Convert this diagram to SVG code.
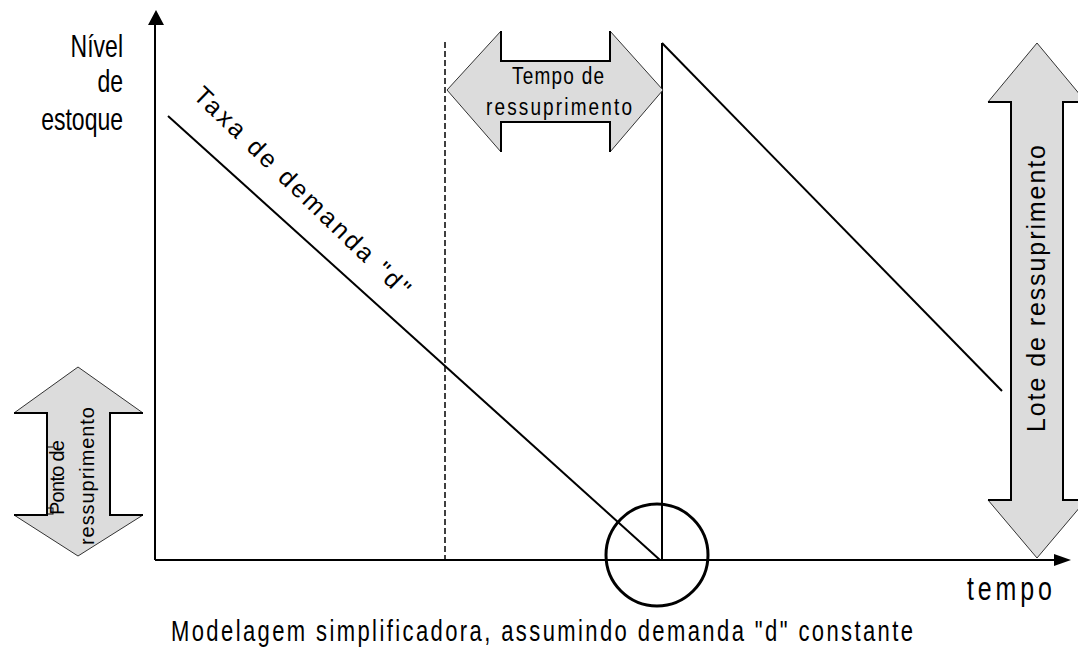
<svg xmlns="http://www.w3.org/2000/svg" width="1078" height="652" viewBox="0 0 1078 652">
<style>
.t{font-family:"Liberation Sans",Arial,sans-serif;fill:#000}
.ln{stroke:#000;stroke-width:2;fill:none}
.fill{fill:#dcdcdc;stroke:#333;stroke-width:1}
.edge{stroke:#000;stroke-width:2;fill:none}
</style>
<rect width="1078" height="652" fill="#fff"/>
<g id="axes">
<line class="ln" x1="155" y1="22" x2="155" y2="560"/>
<polygon points="156,10 148,25 164,25" fill="#000"/>
<line class="ln" x1="155" y1="560" x2="1058" y2="560"/>
<polygon points="1071,560 1054,554 1054,566" fill="#000"/>
<text class="t" font-size="23" text-anchor="end" transform="translate(123,57) scale(1,1.4)">Nível</text>
<text class="t" font-size="23" text-anchor="end" transform="translate(123,92) scale(1,1.4)">de</text>
<text class="t" font-size="23" text-anchor="end" transform="translate(123,130) scale(1,1.4)">estoque</text>
<text class="t" font-size="25" transform="translate(967,600) scale(1,1.35)" textLength="85" lengthAdjust="spacing">tempo</text>
</g>
<g id="connectors">
<line class="ln" x1="168" y1="116" x2="660" y2="560"/>
<line class="ln" x1="662" y1="560" x2="662" y2="43"/>
<line class="ln" x1="662" y1="43" x2="1002" y2="391"/>
<line x1="445" y1="42" x2="445" y2="560" stroke="#000" stroke-width="1.5" stroke-dasharray="6 3"/>
<circle cx="657" cy="555" r="51" fill="none" stroke="#000" stroke-width="3"/>
<text class="t" font-size="25" transform="translate(192,97) rotate(44)" textLength="290" lengthAdjust="spacing">Taxa de demanda "d"</text>
</g>
<g id="tempo-ressuprimento">
<polygon class="fill" points="447,90 501,31 501,61 610,61 610,31 663,90 610,152 610,122 501,122 501,152"/>
<polyline class="edge" points="501,31 501,61 610,61 610,31"/>
<polyline class="edge" points="501,152 501,122 610,122 610,152"/>
<text class="t" font-size="19" transform="translate(512,84) scale(1,1.3)" textLength="92" lengthAdjust="spacing">Tempo de</text>
<text class="t" font-size="19" transform="translate(486,115) scale(1,1.3)" textLength="146" lengthAdjust="spacing">ressuprimento</text>
</g>
<g id="lote-ressuprimento">
<polygon class="fill" points="1037,43 1086,102 1063,102 1063,500 1086,500 1037,558 988,500 1011,500 1011,102 988,102"/>
<polyline class="edge" points="988,102 1011,102 1011,500 988,500"/>
<polyline class="edge" points="1086,102 1063,102 1063,500 1086,500"/>
<text class="t" font-size="25" transform="translate(1045,432) rotate(-90)" textLength="287" lengthAdjust="spacing">Lote de ressuprimento</text>
</g>
<g id="ponto-ressuprimento">
<polygon class="fill" points="78,367 143,413 110,413 110,515 143,515 78,556 14,515 47,515 47,413 14,413"/>
<polyline class="edge" points="14,413 47,413 47,515 14,515"/>
<polyline class="edge" points="143,413 110,413 110,515 143,515"/>
<line x1="47" y1="447" x2="53" y2="447" stroke="#000" stroke-width="1"/>
<rect x="47" y="508" width="6" height="6" fill="none" stroke="#000" stroke-width="1"/>
<text class="t" font-size="20" transform="translate(64,515) rotate(-90)" textLength="75" lengthAdjust="spacing">Ponto de</text>
<text class="t" font-size="20" transform="translate(94,545) rotate(-90)" textLength="138" lengthAdjust="spacing">ressuprimento</text>
</g>
<g id="caption">
<text class="t" font-size="22" transform="translate(171,641) scale(1,1.3)" textLength="742" lengthAdjust="spacing">Modelagem  simplificadora, assumindo demanda "d" constante</text>
</g>
</svg>
